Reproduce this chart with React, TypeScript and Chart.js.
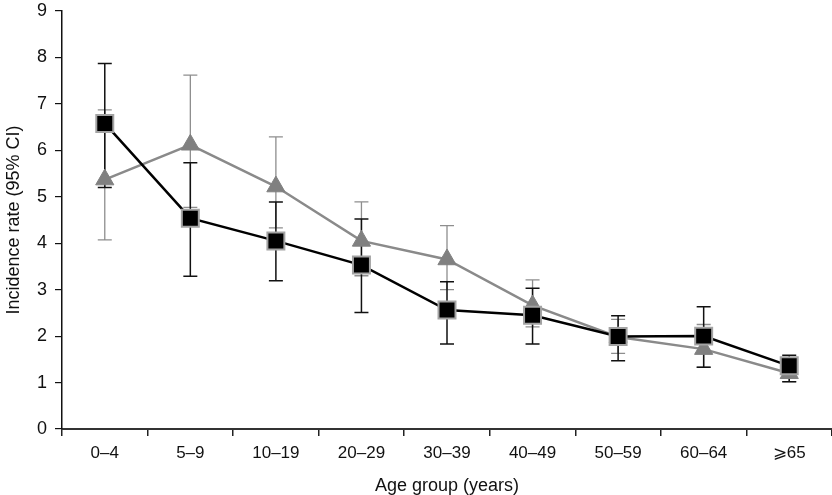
import React, { useEffect, useRef } from 'react';
import { Chart, registerables } from 'chart.js';

Chart.register(...registerables);

const categories = ['0–4', '5–9', '10–19', '20–29', '30–39', '40–49', '50–59', '60–64', '⩾65'];
const yTicks = [0, 1, 2, 3, 4, 5, 6, 7, 8, 9];

const blackValues = [6.58, 4.54, 4.05, 3.53, 2.56, 2.45, 1.99, 2.0, 1.36];
const blackUpper = [7.87, 5.73, 4.89, 4.52, 3.17, 3.03, 2.44, 2.63, 1.59];
const blackLower = [5.2, 3.29, 3.19, 2.51, 1.83, 1.83, 1.47, 1.33, 1.02];

const grayValues = [5.37, 6.12, 5.22, 4.05, 3.65, 2.66, 1.98, 1.72, 1.2];
const grayUpper = [6.87, 7.62, 6.29, 4.89, 4.38, 3.21, 2.36, 2.25, 1.5];
const grayLower = [4.07, 4.77, 4.33, 3.3, 3.0, 2.2, 1.63, 1.33, 1.02];

const FONT = "'Liberation Sans', Arial, Helvetica, sans-serif";

const errorBarPlugin = {
  id: 'errorBars',
  beforeDatasetsDraw(chart: any) {
    const ctx = chart.ctx;
    const xs = chart.scales.x;
    const ys = chart.scales.y;
    const draw = (lo: number[], hi: number[], color: string, width: number, cap: number) => {
      ctx.save();
      ctx.strokeStyle = color;
      ctx.lineWidth = width;
      categories.forEach((_, i) => {
        const px = xs.getPixelForValue(i);
        const pl = ys.getPixelForValue(lo[i]);
        const ph = ys.getPixelForValue(hi[i]);
        ctx.beginPath();
        ctx.moveTo(px, pl);
        ctx.lineTo(px, ph);
        ctx.moveTo(px - cap, ph);
        ctx.lineTo(px + cap, ph);
        ctx.moveTo(px - cap, pl);
        ctx.lineTo(px + cap, pl);
        ctx.stroke();
      });
      ctx.restore();
    };
    draw(grayLower, grayUpper, '#8e8e8e', 1.3, 7);
    draw(blackLower, blackUpper, '#111111', 1.5, 7);
  },
};

export default function App() {
  const ref = useRef<HTMLCanvasElement | null>(null);

  useEffect(() => {
    if (!ref.current) return;
    const chart = new Chart(ref.current, {
      type: 'line',
      data: {
        labels: categories,
        datasets: [
          {
            label: 'Series A',
            data: blackValues,
            borderColor: '#000000',
            borderWidth: 2.5,
            backgroundColor: '#000000',
            pointStyle: 'rect',
            pointRadius: 12,
            pointBackgroundColor: '#000000',
            pointBorderColor: '#a3a3a3',
            pointBorderWidth: 2,
            tension: 0,
          },
          {
            label: 'Series B',
            data: grayValues,
            borderColor: '#8a8a8a',
            borderWidth: 2.5,
            backgroundColor: '#808080',
            pointStyle: 'triangle',
            pointRadius: 10.5,
            pointBackgroundColor: '#808080',
            pointBorderColor: '#808080',
            pointBorderWidth: 1,
            tension: 0,
          },
        ],
      },
      options: {
        animation: false,
        responsive: false,
        maintainAspectRatio: false,
        layout: { autoPadding: false, padding: { top: 11, right: 0, bottom: 0, left: 0 } },
        plugins: {
          legend: { display: false },
          tooltip: { enabled: false },
        },
        scales: {
          x: {
            type: 'category',
            offset: true,
            grid: {
              offset: true,
              drawOnChartArea: false,
              drawTicks: true,
              tickLength: 7,
              color: '#222222',
              lineWidth: 1.5,
            },
            border: { display: true, color: '#333333', width: 2 },
            ticks: {
              color: '#111111',
              font: { family: FONT, size: 17 },
              padding: 7,
              maxRotation: 0,
              autoSkip: false,
            },
            title: {
              display: true,
              text: 'Age group (years)',
              color: '#111111',
              font: { family: FONT, size: 18, lineHeight: 1 },
              padding: { top: 0, bottom: 0 },
            },
            afterFit: (s: any) => {
              s.height = 66;
              s.paddingLeft = 0;
              s.paddingRight = 0;
            },
          },
          y: {
            min: 0,
            max: 9,
            afterBuildTicks: (s: any) => {
              s.ticks = yTicks.map((v) => ({ value: v }));
            },
            grid: {
              drawOnChartArea: false,
              drawTicks: true,
              tickLength: 7,
              color: '#111111',
              lineWidth: 1.2,
            },
            border: { display: true, color: '#111111', width: 1.5 },
            ticks: {
              color: '#111111',
              font: { family: FONT, size: 18 },
              padding: 8,
            },
            title: {
              display: true,
              text: 'Incidence rate (95% CI)',
              color: '#111111',
              font: { family: FONT, size: 18 },
              padding: { top: 3, bottom: 0 },
            },
            afterFit: (s: any) => {
              s.width = 62;
              s.paddingTop = 0;
              s.paddingBottom = 0;
            },
          },
        },
      },
      plugins: [errorBarPlugin],
    });
    return () => chart.destroy();
  }, []);

  return (
    <div style={{ position: 'fixed', left: 0, top: 0, width: 832, height: 495, background: '#fff' }}>
      <canvas ref={ref} width={832} height={495} style={{ display: 'block', width: 832, height: 495 }} />
    </div>
  );
}
